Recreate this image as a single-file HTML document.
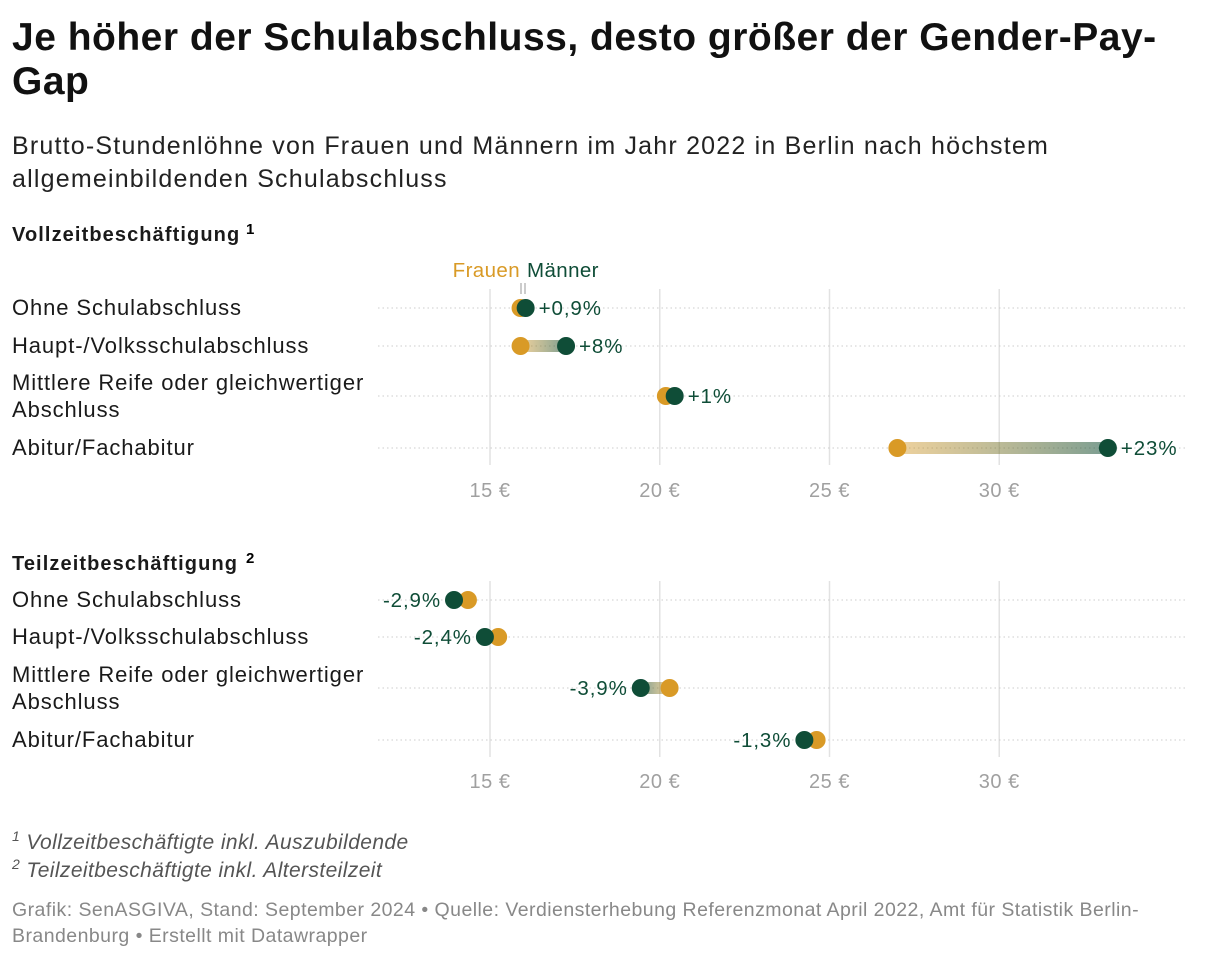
<!DOCTYPE html>
<html><head><meta charset="utf-8"><style>
body{margin:0;width:1220px;height:958px;background:#fff;font-family:"Liberation Sans",sans-serif;color:#1a1a1a;overflow:hidden;position:relative}
.t{position:absolute;left:12px}
sup{line-height:0}
</style></head><body>
<div class="t" style="top:16px;font-size:39px;font-weight:bold;line-height:44px;width:1205px;letter-spacing:0.5px;white-space:nowrap;color:#111">Je höher der Schulabschluss, desto größer der Gender-Pay-<br>Gap</div>
<div class="t" style="top:130px;font-size:25px;line-height:33px;color:#222;width:1100px;letter-spacing:1.2px">Brutto-Stundenlöhne von Frauen und Männern im Jahr 2022 in Berlin nach höchstem<br>allgemeinbildenden Schulabschluss</div>
<svg id="c" width="1220" height="958" style="position:absolute;left:0;top:0"></svg>
<div class="t" style="top:829px;font-size:21px;font-style:italic;color:#555;line-height:28px;letter-spacing:0.4px"><sup style="font-size:14px">1</sup> Vollzeitbeschäftigte inkl. Auszubildende<br><sup style="font-size:14px">2</sup> Teilzeitbeschäftigte inkl. Altersteilzeit</div>
<div class="t" style="top:897px;font-size:19.5px;color:#888;line-height:26px;width:1200px;letter-spacing:0.45px">Grafik: SenASGIVA, Stand: September 2024 • Quelle: Verdiensterhebung Referenzmonat April 2022, Amt für Statistik Berlin-<br>Brandenburg • Erstellt mit Datawrapper</div>
<script>
const categories=["Ohne Schulabschluss","Haupt-/Volksschulabschluss","Mittlere Reife oder gleichwertiger|Abschluss","Abitur/Fachabitur"];
const fullWomen=[15.9,15.9,20.18,27.0];
const fullMen=[16.05,17.24,20.44,33.2];
const fullLabels=["+0,9%","+8%","+1%","+23%"];
const partWomen=[14.35,15.24,20.29,24.62];
const partMen=[13.94,14.85,19.44,24.26];
const partLabels=["-2,9%","-2,4%","-3,9%","-1,3%"];
const ticks=[15,20,25,30];
const G="#d99a26",M="#0f4d37",NS="http://www.w3.org/2000/svg";
const svg=document.getElementById('c');
const x=v=>490+(v-15)*33.95;
function el(t,a,p){const e=document.createElementNS(NS,t);for(const k in a)e.setAttribute(k,a[k]);(p||svg).appendChild(e);return e;}
const defs=el('defs',{});
function panel(title,tY,rowsY,axisY,W,Mn,L,gid,sup){
 let t=el('text',{x:12,y:tY,'font-size':20,'font-weight':'bold',fill:'#1a1a1a','letter-spacing':'1.1'});t.textContent=title;
 
 let s=el('text',{x:246,y:tY-7,'font-size':15,'font-weight':'bold'});s.textContent=sup;
 const top=rowsY[0]-15,bot=rowsY[3]+17;
 ticks.forEach(v=>{const g=el('line',{x1:x(v),x2:x(v),y1:top-4,y2:bot,stroke:'#e2e2e2','stroke-width':1.5});
  
  const tl=el('text',{x:x(v),y:axisY,'text-anchor':'middle','font-size':20,fill:'#a0a0a0','letter-spacing':'0.5'});tl.textContent=v+' €';
  });
 categories.forEach((c,i)=>{const y=rowsY[i];
  el('line',{x1:378,x2:1188,y1:y,y2:y,stroke:'#ccc','stroke-dasharray':'1.5,3'});
  const parts=c.split('|');
  parts.forEach((p,j)=>{const ly=parts.length>1?(j===0?y-6:y+21):y+7;
   const lt=el('text',{x:12,y:ly,'font-size':22,fill:'#1a1a1a','letter-spacing':'0.9'});lt.textContent=p;
   });
  const xw=x(W[i]),xm=x(Mn[i]),id=gid+i;
  const lg=el('linearGradient',{id:id,gradientUnits:'userSpaceOnUse',x1:xw,x2:xm,y1:0,y2:0},defs);
  el('stop',{offset:0,'stop-color':G,'stop-opacity':0.45},lg);el('stop',{offset:1,'stop-color':M,'stop-opacity':0.55},lg);
  const b=el('line',{x1:xw,x2:xm,y1:y,y2:y,stroke:`url(#${id})`,'stroke-width':12});
  
  const cw=el('circle',{cx:xw,cy:y,r:9,fill:G});
  const cm=el('circle',{cx:xm,cy:y,r:9,fill:M});
  const right=Mn[i]>=W[i];
  const vl=el('text',{x:right?Math.max(xw,xm)+13:Math.min(xw,xm)-13,y:y+7,'text-anchor':right?'start':'end','font-size':20.5,fill:M,'letter-spacing':'0.9'});vl.textContent=L[i];
  
 });
}
panel('Vollzeitbeschäftigung',241,[308,346,396,448],497,fullWomen,fullMen,fullLabels,'gf','1');
panel('Teilzeitbeschäftigung',570,[600,637,688,740],788,partWomen,partMen,partLabels,'gp','2');
const lf=el('text',{x:520,y:277,'text-anchor':'end','font-size':20.5,fill:G,'letter-spacing':'0.4'});lf.textContent='Frauen';

const lm=el('text',{x:527,y:277,'font-size':20.5,fill:M,'letter-spacing':'0.4'});lm.textContent='Männer';

el('line',{x1:521,x2:521,y1:283,y2:294,stroke:'#999'});el('line',{x1:525,x2:525,y1:283,y2:294,stroke:'#999'});
</script>
</body></html>
